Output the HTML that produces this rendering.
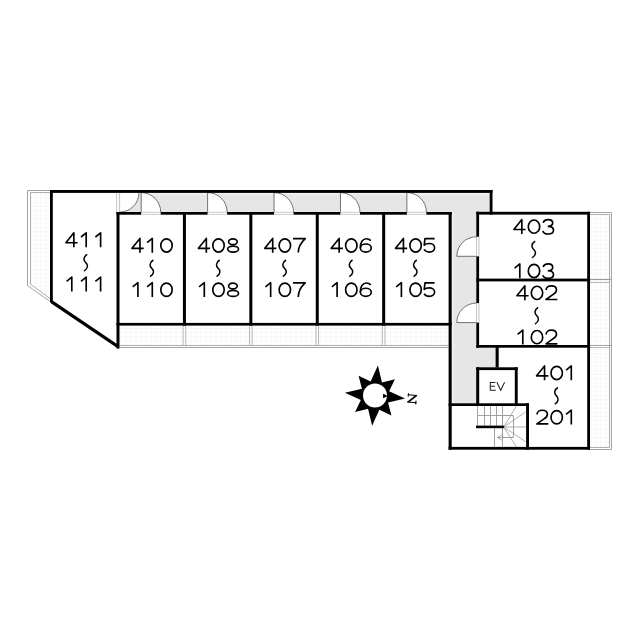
<!DOCTYPE html>
<html><head><meta charset="utf-8"><style>
html,body{margin:0;padding:0;background:#fff;}
svg{display:block;}
</style></head><body>
<svg width="640" height="640" viewBox="0 0 640 640">
<rect width="640" height="640" fill="#fff"/>
<defs><pattern id="grid" width="5" height="4.2" patternUnits="userSpaceOnUse" x="0.5" y="0.3"><path d="M0 0H5M0 0V4.2" stroke="#ebebeb" stroke-width="0.7" fill="none"/></pattern></defs>
<polygon points="27.5,190.5 50,190.5 50,302 27.5,285.5" fill="url(#grid)"/>
<polyline points="50,190.5 27.5,190.5 27.5,285.5 50,301.5" fill="none" stroke="#9a9a9a" stroke-width="0.9"/>
<polyline points="50,192.5 30.5,192.5 30.5,284.2 50,298.6" fill="none" stroke="#9a9a9a" stroke-width="0.8"/>
<rect x="119.5" y="325.6" width="329.0" height="21.899999999999977" fill="url(#grid)"/>
<line x1="119.50" y1="347.50" x2="448.50" y2="347.50" stroke="#9a9a9a" stroke-width="0.9"/>
<line x1="119.50" y1="345.50" x2="448.50" y2="345.50" stroke="#9a9a9a" stroke-width="0.8"/>
<line x1="183.12" y1="325.60" x2="183.12" y2="345.50" stroke="#9a9a9a" stroke-width="0.7"/>
<line x1="185.72" y1="325.60" x2="185.72" y2="345.50" stroke="#9a9a9a" stroke-width="0.7"/>
<line x1="249.54" y1="325.60" x2="249.54" y2="345.50" stroke="#9a9a9a" stroke-width="0.7"/>
<line x1="252.14" y1="325.60" x2="252.14" y2="345.50" stroke="#9a9a9a" stroke-width="0.7"/>
<line x1="315.96" y1="325.60" x2="315.96" y2="345.50" stroke="#9a9a9a" stroke-width="0.7"/>
<line x1="318.56" y1="325.60" x2="318.56" y2="345.50" stroke="#9a9a9a" stroke-width="0.7"/>
<line x1="382.38" y1="325.60" x2="382.38" y2="345.50" stroke="#9a9a9a" stroke-width="0.7"/>
<line x1="384.98" y1="325.60" x2="384.98" y2="345.50" stroke="#9a9a9a" stroke-width="0.7"/>
<rect x="590" y="212.5" width="21.5" height="237.0" fill="url(#grid)"/>
<line x1="611.50" y1="212.50" x2="611.50" y2="449.50" stroke="#9a9a9a" stroke-width="0.9"/>
<line x1="609.50" y1="214.50" x2="609.50" y2="447.50" stroke="#9a9a9a" stroke-width="0.8"/>
<line x1="590.00" y1="212.50" x2="611.50" y2="212.50" stroke="#9a9a9a" stroke-width="0.9"/>
<line x1="590.00" y1="214.50" x2="609.50" y2="214.50" stroke="#9a9a9a" stroke-width="0.8"/>
<line x1="590.00" y1="449.50" x2="611.50" y2="449.50" stroke="#9a9a9a" stroke-width="0.9"/>
<line x1="590.00" y1="447.50" x2="609.50" y2="447.50" stroke="#9a9a9a" stroke-width="0.8"/>
<line x1="590.00" y1="279.50" x2="611.50" y2="279.50" stroke="#9a9a9a" stroke-width="1.2"/>
<line x1="590.00" y1="282.50" x2="609.50" y2="282.50" stroke="#9a9a9a" stroke-width="0.7"/>
<line x1="590.00" y1="345.50" x2="611.50" y2="345.50" stroke="#9a9a9a" stroke-width="0.9"/>
<line x1="590.00" y1="347.50" x2="609.50" y2="347.50" stroke="#9a9a9a" stroke-width="0.7"/>
<rect x="119.50" y="192.90" width="370.30" height="19.20" fill="#e6e6e6"/>
<rect x="451.60" y="212.00" width="24.70" height="191.40" fill="#e6e6e6"/>
<rect x="476.00" y="347.50" width="19.70" height="19.90" fill="#e6e6e6"/>
<rect x="119.50" y="192.90" width="370.30" height="1.90" fill="#f0f0f0"/>
<rect x="451.60" y="212.00" width="1.90" height="191.40" fill="#f2f2f2"/>
<path d="M141.20,212.1 V192.60 A19.5,19.5 0 0 1 160.70,212.1 Z" fill="#fff"/>
<path d="M141.20,212.1 V192.60 A19.5,19.5 0 0 1 160.70,212.1" fill="none" stroke="#5a5a5a" stroke-width="0.85"/>
<path d="M207.62,212.1 V192.60 A19.5,19.5 0 0 1 227.12,212.1 Z" fill="#fff"/>
<path d="M207.62,212.1 V192.60 A19.5,19.5 0 0 1 227.12,212.1" fill="none" stroke="#5a5a5a" stroke-width="0.85"/>
<path d="M274.04,212.1 V192.60 A19.5,19.5 0 0 1 293.54,212.1 Z" fill="#fff"/>
<path d="M274.04,212.1 V192.60 A19.5,19.5 0 0 1 293.54,212.1" fill="none" stroke="#5a5a5a" stroke-width="0.85"/>
<path d="M340.46,212.1 V192.60 A19.5,19.5 0 0 1 359.96,212.1 Z" fill="#fff"/>
<path d="M340.46,212.1 V192.60 A19.5,19.5 0 0 1 359.96,212.1" fill="none" stroke="#5a5a5a" stroke-width="0.85"/>
<path d="M406.88,212.1 V192.60 A19.5,19.5 0 0 1 426.38,212.1 Z" fill="#fff"/>
<path d="M406.88,212.1 V192.60 A19.5,19.5 0 0 1 426.38,212.1" fill="none" stroke="#5a5a5a" stroke-width="0.85"/>
<path d="M119.7,192.9 H138.9 A19.2,19.2 0 0 1 119.7,212.1 Z" fill="#fff"/>
<path d="M138.9,192.9 A19.2,19.2 0 0 1 119.7,212.1" fill="none" stroke="#5a5a5a" stroke-width="0.85"/>
<path d="M476.3,256.30 H456.80 A19.5,19.5 0 0 1 476.3,236.80 Z" fill="#fff"/>
<path d="M476.3,256.30 H456.80 A19.5,19.5 0 0 1 476.3,236.80" fill="none" stroke="#5a5a5a" stroke-width="0.85"/>
<path d="M476.3,322.60 H456.80 A19.5,19.5 0 0 1 476.3,303.10 Z" fill="#fff"/>
<path d="M476.3,322.60 H456.80 A19.5,19.5 0 0 1 476.3,303.10" fill="none" stroke="#5a5a5a" stroke-width="0.85"/>
<rect x="50.00" y="190.00" width="442.50" height="2.90" fill="#000"/>
<rect x="50.00" y="190.00" width="2.80" height="112.50" fill="#000"/>
<polygon points="52.3,300.3 118.9,345.3 117.2,347.9 50.5,302.9" fill="#000"/>
<rect x="116.50" y="212.00" width="3.00" height="136.60" fill="#000"/>
<line x1="116.70" y1="192.90" x2="116.70" y2="212.00" stroke="#aaa" stroke-width="0.7"/>
<line x1="119.60" y1="192.90" x2="119.60" y2="212.00" stroke="#aaa" stroke-width="0.7"/>
<rect x="489.70" y="190.00" width="2.80" height="24.60" fill="#000"/>
<rect x="116.50" y="212.00" width="24.70" height="2.70" fill="#000"/>
<line x1="141.20" y1="212.30" x2="160.70" y2="212.30" stroke="#aaa" stroke-width="0.6"/>
<line x1="141.20" y1="214.40" x2="160.70" y2="214.40" stroke="#aaa" stroke-width="0.6"/>
<rect x="160.70" y="212.00" width="46.92" height="2.70" fill="#000"/>
<line x1="207.62" y1="212.30" x2="227.12" y2="212.30" stroke="#aaa" stroke-width="0.6"/>
<line x1="207.62" y1="214.40" x2="227.12" y2="214.40" stroke="#aaa" stroke-width="0.6"/>
<rect x="227.12" y="212.00" width="46.92" height="2.70" fill="#000"/>
<line x1="274.04" y1="212.30" x2="293.54" y2="212.30" stroke="#aaa" stroke-width="0.6"/>
<line x1="274.04" y1="214.40" x2="293.54" y2="214.40" stroke="#aaa" stroke-width="0.6"/>
<rect x="293.54" y="212.00" width="46.92" height="2.70" fill="#000"/>
<line x1="340.46" y1="212.30" x2="359.96" y2="212.30" stroke="#aaa" stroke-width="0.6"/>
<line x1="340.46" y1="214.40" x2="359.96" y2="214.40" stroke="#aaa" stroke-width="0.6"/>
<rect x="359.96" y="212.00" width="46.92" height="2.70" fill="#000"/>
<line x1="406.88" y1="212.30" x2="426.38" y2="212.30" stroke="#aaa" stroke-width="0.6"/>
<line x1="406.88" y1="214.40" x2="426.38" y2="214.40" stroke="#aaa" stroke-width="0.6"/>
<rect x="426.38" y="212.00" width="25.32" height="2.70" fill="#000"/>
<rect x="182.92" y="212.00" width="3.00" height="113.60" fill="#000"/>
<rect x="249.34" y="212.00" width="3.00" height="113.60" fill="#000"/>
<rect x="315.76" y="212.00" width="3.00" height="113.60" fill="#000"/>
<rect x="382.18" y="212.00" width="3.00" height="113.60" fill="#000"/>
<rect x="116.50" y="322.90" width="335.20" height="2.70" fill="#000"/>
<rect x="448.60" y="212.00" width="3.10" height="237.70" fill="#000"/>
<rect x="476.30" y="211.80" width="113.70" height="2.80" fill="#000"/>
<rect x="476.30" y="211.80" width="2.80" height="25.00" fill="#000"/>
<rect x="476.30" y="256.30" width="2.80" height="46.80" fill="#000"/>
<rect x="476.30" y="322.60" width="2.80" height="25.10" fill="#000"/>
<line x1="476.60" y1="236.80" x2="476.60" y2="256.30" stroke="#aaa" stroke-width="0.7"/>
<line x1="479.00" y1="236.80" x2="479.00" y2="256.30" stroke="#aaa" stroke-width="0.7"/>
<line x1="476.60" y1="303.10" x2="476.60" y2="322.60" stroke="#aaa" stroke-width="0.7"/>
<line x1="479.00" y1="303.10" x2="479.00" y2="322.60" stroke="#aaa" stroke-width="0.7"/>
<rect x="587.20" y="211.80" width="2.80" height="237.90" fill="#000"/>
<rect x="476.30" y="278.60" width="113.70" height="2.80" fill="#000"/>
<rect x="476.30" y="345.00" width="113.70" height="2.70" fill="#000"/>
<rect x="495.60" y="345.00" width="3.10" height="22.50" fill="#000"/>
<rect x="476.20" y="367.30" width="41.50" height="2.80" fill="#000"/>
<rect x="476.20" y="367.30" width="3.00" height="38.70" fill="#000"/>
<rect x="514.80" y="367.30" width="2.90" height="38.70" fill="#000"/>
<rect x="448.60" y="403.30" width="80.40" height="2.70" fill="#000"/>
<rect x="526.10" y="403.30" width="2.90" height="46.40" fill="#000"/>
<rect x="448.60" y="446.90" width="141.40" height="2.80" fill="#000"/>
<line x1="477.50" y1="406.00" x2="477.50" y2="425.60" stroke="#999999" stroke-width="0.9"/>
<line x1="484.50" y1="406.00" x2="484.50" y2="425.60" stroke="#999999" stroke-width="0.9"/>
<line x1="490.50" y1="406.00" x2="490.50" y2="425.60" stroke="#999999" stroke-width="0.9"/>
<line x1="496.50" y1="406.00" x2="496.50" y2="425.60" stroke="#999999" stroke-width="0.9"/>
<line x1="502.50" y1="406.00" x2="502.50" y2="425.60" stroke="#999999" stroke-width="0.9"/>
<line x1="494.50" y1="428.20" x2="494.50" y2="447.00" stroke="#999999" stroke-width="0.9"/>
<line x1="502.50" y1="428.20" x2="502.50" y2="447.00" stroke="#999999" stroke-width="0.9"/>
<line x1="477.50" y1="415.50" x2="513.50" y2="415.50" stroke="#999999" stroke-width="0.9"/>
<rect x="502.5" y="415.5" width="11" height="22" rx="1.5" fill="none" stroke="#999999" stroke-width="0.9"/>
<line x1="503.70" y1="427.00" x2="516.40" y2="406.00" stroke="#999999" stroke-width="0.8"/>
<line x1="503.70" y1="427.00" x2="525.50" y2="412.00" stroke="#999999" stroke-width="0.8"/>
<line x1="503.70" y1="427.00" x2="526.00" y2="427.00" stroke="#999999" stroke-width="0.8"/>
<line x1="503.70" y1="427.00" x2="525.50" y2="441.50" stroke="#999999" stroke-width="0.8"/>
<line x1="503.70" y1="427.00" x2="516.40" y2="447.00" stroke="#999999" stroke-width="0.8"/>
<rect x="476.00" y="425.60" width="27.90" height="2.60" fill="#000"/>
<line x1="497.50" y1="437.50" x2="513.50" y2="437.50" stroke="#999999" stroke-width="0.9"/>
<path d="M502,434.8 L497.2,437.5 L502,440.2" fill="none" stroke="#999999" stroke-width="0.8"/>
<path d="M495.4,382.4 H490.3 V390.2 H495.8 M490.3,386.3 H494.9 M496.9,382.2 L500.7,390.2 L504.6,382.2" fill="none" stroke="#222" stroke-width="1.05"/>
<polygon points="377.89,365.54 381.95,382.53 394.91,379.19 389.15,391.27 405.06,398.49 388.07,402.55 391.41,415.51 379.33,409.75 372.11,425.66 368.05,408.67 355.09,412.01 360.85,399.93 344.94,392.71 361.93,388.65 358.59,375.69 370.67,381.45" fill="#000"/>
<circle cx="375" cy="395.6" r="12" fill="#fff"/>
<path d="M383.2,393.6 L387.6,396.2 L383.0,398.3 Z" fill="#000"/>
<g transform="rotate(5 412 398.5)"><rect x="407.6" y="394.6" width="9.2" height="1.0" fill="#000"/><rect x="407.5" y="393.6" width="1.1" height="3.2" fill="#000"/><polygon points="415.0,395.0 417.2,395.4 409.4,402.8 407.2,402.4" fill="#000"/><rect x="407.6" y="401.9" width="9.0" height="1.0" fill="#000"/><rect x="415.6" y="400.4" width="1.2" height="3.6" fill="#000"/></g>
<g fill="none" stroke="#000" stroke-width="1.65" stroke-linecap="butt" stroke-linejoin="round">
<path d="M73.85,247.20 V232.80 L65.90,242.70 H77.60"/>
<path d="M81.00,237.00 L86.20,232.80 L86.20,247.20"/>
<path d="M95.40,237.00 L100.60,232.80 L100.60,247.20"/>
<path d="M66.60,281.30 L71.80,277.10 L71.80,291.50"/>
<path d="M81.00,281.30 L86.20,277.10 L86.20,291.50"/>
<path d="M95.40,281.30 L100.60,277.10 L100.60,291.50"/>
<path d="M87.20,254.40 C83.20,256.70 83.20,260.70 85.70,262.70 C88.20,264.70 88.20,268.70 84.00,271.00" stroke-width="1.5"/>
<path d="M139.95,252.80 V238.40 L132.00,248.30 H143.70"/>
<path d="M147.10,242.60 L152.30,238.40 L152.30,252.80"/>
<ellipse cx="166.50" cy="245.45" rx="5.7" ry="6.62"/>
<path d="M132.70,286.90 L137.90,282.70 L137.90,297.10"/>
<path d="M147.10,286.90 L152.30,282.70 L152.30,297.10"/>
<ellipse cx="166.50" cy="289.75" rx="5.7" ry="6.62"/>
<path d="M153.30,260.00 C149.30,262.30 149.30,266.30 151.80,268.30 C154.30,270.30 154.30,274.30 150.10,276.60" stroke-width="1.5"/>
<path d="M206.35,252.80 V238.40 L198.40,248.30 H210.10"/>
<ellipse cx="218.50" cy="245.45" rx="5.7" ry="6.62"/>
<ellipse cx="232.90" cy="241.70" rx="4.3" ry="2.9"/><ellipse cx="233.10" cy="249.10" rx="5.45" ry="3.0"/>
<path d="M199.10,286.90 L204.30,282.70 L204.30,297.10"/>
<ellipse cx="218.50" cy="289.75" rx="5.7" ry="6.62"/>
<ellipse cx="232.90" cy="286.00" rx="4.3" ry="2.9"/><ellipse cx="233.10" cy="293.40" rx="5.45" ry="3.0"/>
<path d="M219.70,260.00 C215.70,262.30 215.70,266.30 218.20,268.30 C220.70,270.30 220.70,274.30 216.50,276.60" stroke-width="1.5"/>
<path d="M272.70,252.80 V238.40 L264.75,248.30 H276.45"/>
<ellipse cx="284.85" cy="245.45" rx="5.7" ry="6.62"/>
<path d="M293.05,238.60 L305.25,238.60 C302.45,241.10 298.45,245.30 298.25,252.60"/>
<path d="M265.45,286.90 L270.65,282.70 L270.65,297.10"/>
<ellipse cx="284.85" cy="289.75" rx="5.7" ry="6.62"/>
<path d="M293.05,282.90 L305.25,282.90 C302.45,285.40 298.45,289.60 298.25,296.90"/>
<path d="M286.05,260.00 C282.05,262.30 282.05,266.30 284.55,268.30 C287.05,270.30 287.05,274.30 282.85,276.60" stroke-width="1.5"/>
<path d="M339.15,252.80 V238.40 L331.20,248.30 H342.90"/>
<ellipse cx="351.30" cy="245.45" rx="5.7" ry="6.62"/>
<ellipse cx="365.80" cy="248.00" rx="5.45" ry="4.05"/><path d="M360.35,247.90 C360.20,241.90 363.10,238.70 366.30,238.70 C368.30,238.70 369.80,239.50 370.80,240.60"/>
<path d="M331.90,286.90 L337.10,282.70 L337.10,297.10"/>
<ellipse cx="351.30" cy="289.75" rx="5.7" ry="6.62"/>
<ellipse cx="365.80" cy="292.30" rx="5.45" ry="4.05"/><path d="M360.35,292.20 C360.20,286.20 363.10,283.00 366.30,283.00 C368.30,283.00 369.80,283.80 370.80,284.90"/>
<path d="M352.50,260.00 C348.50,262.30 348.50,266.30 351.00,268.30 C353.50,270.30 353.50,274.30 349.30,276.60" stroke-width="1.5"/>
<path d="M403.45,252.80 V238.40 L395.50,248.30 H407.20"/>
<ellipse cx="415.60" cy="245.45" rx="5.7" ry="6.62"/>
<path d="M434.60,238.55 L425.00,238.55 L424.20,245.10 C425.50,244.00 427.20,243.50 429.20,243.50 C432.40,243.50 434.60,245.40 434.60,247.80 C434.60,250.30 432.40,252.05 429.30,252.05 C427.00,252.05 425.20,251.10 424.10,249.40"/>
<path d="M396.20,286.90 L401.40,282.70 L401.40,297.10"/>
<ellipse cx="415.60" cy="289.75" rx="5.7" ry="6.62"/>
<path d="M434.60,282.85 L425.00,282.85 L424.20,289.40 C425.50,288.30 427.20,287.80 429.20,287.80 C432.40,287.80 434.60,289.70 434.60,292.10 C434.60,294.60 432.40,296.35 429.30,296.35 C427.00,296.35 425.20,295.40 424.10,293.70"/>
<path d="M416.80,260.00 C412.80,262.30 412.80,266.30 415.30,268.30 C417.80,270.30 417.80,274.30 413.60,276.60" stroke-width="1.5"/>
<path d="M521.85,234.00 V219.60 L513.90,229.50 H525.60"/>
<ellipse cx="534.00" cy="226.65" rx="5.7" ry="6.62"/>
<path d="M543.20,222.70 C543.80,220.60 545.80,219.60 548.20,219.60 C551.00,219.60 552.70,221.20 552.70,223.10 C552.70,225.10 551.00,226.40 547.80,226.40 M547.80,226.40 C551.40,226.40 553.50,227.90 553.50,230.20 C553.50,232.50 551.30,234.00 548.10,234.00 C545.40,234.00 543.40,232.80 542.80,230.90"/>
<path d="M514.60,268.10 L519.80,263.90 L519.80,278.30"/>
<ellipse cx="534.00" cy="270.95" rx="5.7" ry="6.62"/>
<path d="M543.20,267.00 C543.80,264.90 545.80,263.90 548.20,263.90 C551.00,263.90 552.70,265.50 552.70,267.40 C552.70,269.40 551.00,270.70 547.80,270.70 M547.80,270.70 C551.40,270.70 553.50,272.20 553.50,274.50 C553.50,276.80 551.30,278.30 548.10,278.30 C545.40,278.30 543.40,277.10 542.80,275.20"/>
<path d="M535.20,241.20 C531.20,243.50 531.20,247.50 533.70,249.50 C536.20,251.50 536.20,255.50 532.00,257.80" stroke-width="1.5"/>
<path d="M524.85,300.20 V285.80 L516.90,295.70 H528.60"/>
<ellipse cx="537.00" cy="292.85" rx="5.7" ry="6.62"/>
<path d="M546.10,290.10 C546.10,287.50 548.40,285.80 551.40,285.80 C554.40,285.80 556.50,287.50 556.50,290.00 C556.50,291.80 555.40,293.00 553.20,294.40 L546.00,299.50 L557.40,299.50"/>
<path d="M517.60,334.30 L522.80,330.10 L522.80,344.50"/>
<ellipse cx="537.00" cy="337.15" rx="5.7" ry="6.62"/>
<path d="M546.10,334.40 C546.10,331.80 548.40,330.10 551.40,330.10 C554.40,330.10 556.50,331.80 556.50,334.30 C556.50,336.10 555.40,337.30 553.20,338.70 L546.00,343.80 L557.40,343.80"/>
<path d="M538.20,307.40 C534.20,309.70 534.20,313.70 536.70,315.70 C539.20,317.70 539.20,321.70 535.00,324.00" stroke-width="1.5"/>
<path d="M544.55,380.30 V365.90 L536.60,375.80 H548.30"/>
<ellipse cx="556.70" cy="372.95" rx="5.7" ry="6.62"/>
<path d="M566.10,370.10 L571.30,365.90 L571.30,380.30"/>
<path d="M537.00,414.50 C537.00,411.90 539.30,410.20 542.30,410.20 C545.30,410.20 547.40,411.90 547.40,414.40 C547.40,416.20 546.30,417.40 544.10,418.80 L536.90,423.90 L548.30,423.90"/>
<ellipse cx="556.70" cy="417.25" rx="5.7" ry="6.62"/>
<path d="M566.10,414.40 L571.30,410.20 L571.30,424.60"/>
<path d="M557.90,387.50 C553.90,389.80 553.90,393.80 556.40,395.80 C558.90,397.80 558.90,401.80 554.70,404.10" stroke-width="1.5"/>
</g>
</svg>
</body></html>
